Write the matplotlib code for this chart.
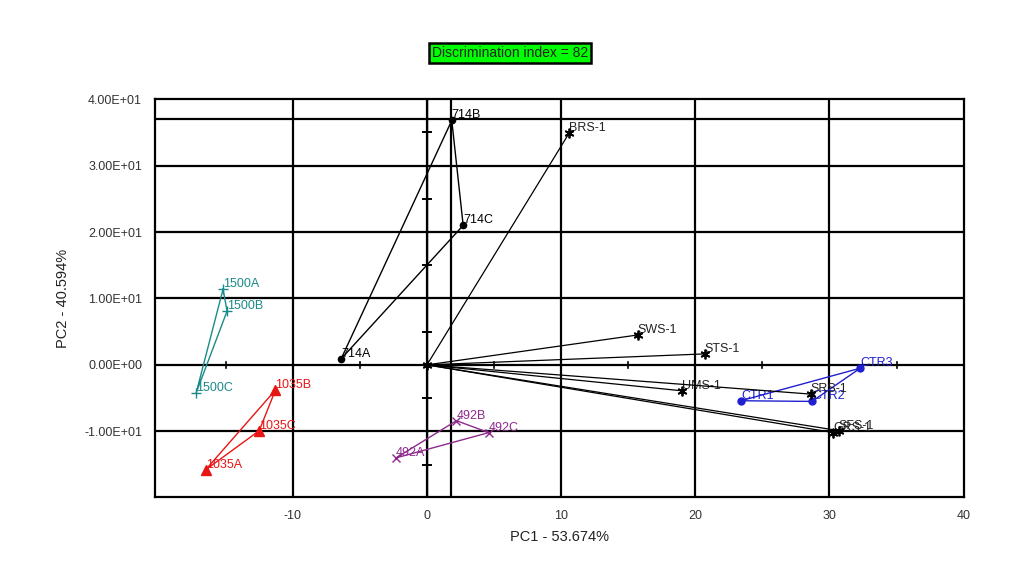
import numpy as np
import matplotlib
matplotlib.use('Agg')
import matplotlib.pyplot as plt

plt.rcParams['font.family'] = ['Liberation Sans', 'DejaVu Sans']
plt.rcParams['axes.unicode_minus'] = False

# Muestras agrupadas (PC1, PC2)
grp_714_lab = ['714A', '714B', '714C']
grp_714_x = [-6.4, 1.85, 2.7]
grp_714_y = [0.9, 36.8, 21.0]

grp_1500_lab = ['1500A', '1500B', '1500C']
grp_1500_x = [-15.2, -14.9, -17.2]
grp_1500_y = [11.4, 8.1, -4.2]

grp_1035_lab = ['1035A', '1035B', '1035C']
grp_1035_x = [-16.5, -11.3, -12.5]
grp_1035_y = [-15.8, -3.8, -9.9]

grp_492_lab = ['492A', '492B', '492C']
grp_492_x = [-2.3, 2.2, 4.6]
grp_492_y = [-14.0, -8.4, -10.2]

grp_ctr_lab = ['CTR1', 'CTR2', 'CTR3']
grp_ctr_x = [23.4, 28.7, 32.3]
grp_ctr_y = [-5.4, -5.5, -0.5]

# Vectores de referencia desde el origen
ref_lab = ['BRS-1', 'SWS-1', 'STS-1', 'UMS-1', 'SRS-1', 'GRS-1', 'SFS-1']
ref_x = [10.6, 15.7, 20.7, 19.0, 28.6, 30.3, 30.7]
ref_y = [34.9, 4.5, 1.65, -3.9, -4.4, -10.2, -9.9]

xticks = [-10, 0, 10, 20, 30, 40]
yticks = [-10, 0, 10, 20, 30, 40]
inner_xticks = [-15, -5, 5, 15, 25, 35]
inner_yticks = [-15, -5, 5, 15, 25, 35]

fig = plt.figure(figsize=(10.24, 5.8), dpi=100)
ax = fig.add_axes([0.151, 0.143, 0.790, 0.686])
ax.set_xlim(-20.3, 40)
ax.set_ylim(-19.9, 40)

# Rejilla
for v in xticks[:-1] + [1.8]:
    ax.axvline(v, color='black', lw=1.6, zorder=1)
for v in yticks[:-1] + [37.0]:
    ax.axhline(v, color='black', lw=1.6, zorder=1)
ax.axvline(0, color='black', lw=1.0, zorder=1)
for t in inner_xticks:
    ax.plot([t, t], [-0.5, 0.5], color='black', lw=1.2, zorder=1)
for t in inner_yticks:
    ax.plot([-0.32, 0.32], [t, t], color='black', lw=1.4, zorder=1)

def triangulo(xs, ys, labs, color, marker, ms, mew=1.0):
    ax.plot(xs + [xs[0]], ys + [ys[0]], color=color, lw=1.0, zorder=3)
    ax.plot(xs, ys, ls='none', marker=marker, color=color, ms=ms,
            mew=mew, zorder=4)
    for x, y, l in zip(xs, ys, labs):
        ax.annotate(l, (x, y), xytext=(0, 1.5), textcoords='offset points',
                    color=color, fontsize=9)

triangulo(grp_714_x, grp_714_y, grp_714_lab, 'black', 'o', 4.5)
triangulo(grp_1500_x, grp_1500_y, grp_1500_lab, '#1a8a8a', '+', 7)
triangulo(grp_1035_x, grp_1035_y, grp_1035_lab, '#e81515', '^', 6.5)
triangulo(grp_492_x, grp_492_y, grp_492_lab, '#8e2a8e', 'x', 6)
triangulo(grp_ctr_x, grp_ctr_y, grp_ctr_lab, '#2020d0', 'o', 5)

for x, y, l in zip(ref_x, ref_y, ref_lab):
    ax.plot([0, x], [0, y], color='black', lw=0.9, zorder=3)
    ax.plot(x, y, marker=(6, 2, 0), color='black', ms=7, mew=1.3, zorder=4)
    ax.annotate(l, (x, y), xytext=(0, 1.5), textcoords='offset points',
                color='#222222', fontsize=9)
ax.plot(0, 0, marker=(6, 2, 0), color='black', ms=7, mew=1.3, zorder=4)

ax.set_xticks(xticks)
ax.set_yticks(yticks)
ax.set_yticklabels([('%.2E' % v) for v in yticks])
ax.tick_params(length=0, labelsize=9, pad=9, colors='#333333')
for s in ax.spines.values():
    s.set_linewidth(1.6)

ax.set_xlabel('PC1 - 53.674%', fontsize=10.5, labelpad=6, color='#222222')
ax.set_ylabel('PC2 - 40.594%', fontsize=10.5, labelpad=10, color='#222222')

fig.text(0.498, 0.909, 'Discrimination index = 82', ha='center', va='center',
         fontsize=10, color='#222222',
         bbox=dict(boxstyle='square,pad=0.2', fc='#00ff00', ec='black', lw=1.8))

fig.savefig('out.png', dpi=100)
